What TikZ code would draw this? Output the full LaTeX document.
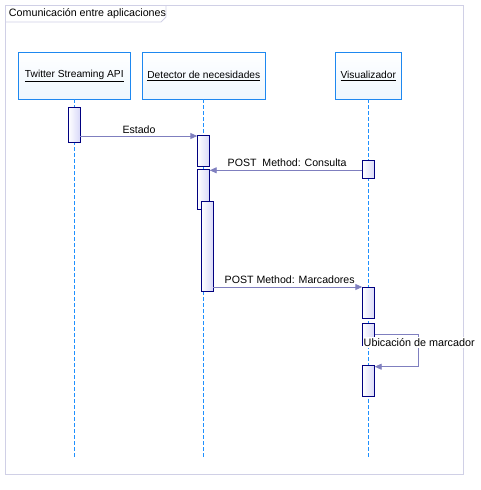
\documentclass[tikz,border=0pt]{standalone}
\usepackage{fontspec}
\setmainfont{Liberation Sans}
\usetikzlibrary{arrows.meta}
\definecolor{framec}{HTML}{D0D0E6}
\definecolor{lifeb}{HTML}{1E88F0}
\definecolor{lifefill}{HTML}{EEF7FE}
\definecolor{dashc}{HTML}{1E90FF}
\definecolor{actb}{HTML}{000080}
\definecolor{actfill}{HTML}{D8D8F8}
\definecolor{msgc}{HTML}{7F7FBF}
\tikzset{
  lifebox/.style={draw=lifeb, line width=0.9pt, top color=white, bottom color=lifefill, inner sep=0pt, font=\fontsize{10.2}{12}\selectfont},
  lifeline/.style={dashc, line width=0.9pt, dash pattern=on 4pt off 2pt},
  actbox/.style={draw=actb, line width=0.9pt, left color=white, right color=actfill},
  msg/.style={msgc, line width=0.9pt, -{Triangle[length=7pt,width=6pt]}},
  msglabel/.style={font=\fontsize{10.6}{12}\selectfont, inner sep=1pt},
}
\begin{document}
\begin{tikzpicture}[x=1pt,y=-1pt]
\useasboundingbox (0,0) rectangle (481,490);
% frame
\draw[framec, line width=0.9pt] (5.5,5.5) rectangle (463,474);
\draw[framec, line width=0.9pt] (5.5,22) -- (161,22) -- (166,17) -- (166,5.5);
\node[anchor=west, inner sep=0pt, font=\fontsize{10.7}{12}\selectfont] (title) at (8.8,14) {Comunicación entre aplicaciones};
% lifeline heads
\path[lifebox] (18.3,52.3) rectangle (130.3,99.3) node[midway] (twh) {\underline{Twitter Streaming API}};
\path[lifebox] (142.3,52.3) rectangle (265.3,99.3) node[midway] (deh) {\underline{Detector de necesidades}};
\path[lifebox] (335.3,52.3) rectangle (401.3,99.3) node[midway] (vih) {\underline{Visualizador}};
\coordinate (twtop) at (74.3,99.3);
\coordinate (detop) at (203.3,99.3);
\coordinate (vitop) at (368.3,99.3);
\coordinate (twbot) at (74.3,457);
\coordinate (debot) at (203.3,457);
\coordinate (vibot) at (368.3,457);
\draw[lifeline] (twtop) -- (twbot);
\draw[lifeline] (detop) -- (debot);
\draw[lifeline] (vitop) -- (vibot);
% activations
\path[actbox] (68.3,107.3) rectangle (80.3,142.3);
\path[actbox] (197.3,135.3) rectangle (209.7,166);
\path[actbox] (197.3,169.3) rectangle (209.7,209.3);
\path[actbox] (201.3,201) rectangle (213.3,291);
\path[actbox] (362.3,160.3) rectangle (374.7,178.7);
\path[actbox] (362.3,287) rectangle (374.7,318.3);
\path[actbox] (362.3,323) rectangle (374.7,345);
\path[actbox] (362.3,365) rectangle (374.7,396.7);
\coordinate (a1) at (80.3,136);
\coordinate (b1) at (197.3,136);
\coordinate (a2) at (362.3,170.3);
\coordinate (b2) at (209.7,170.3);
\coordinate (a3) at (213.3,287);
\coordinate (b3) at (362.3,287);
\coordinate (s0) at (374.7,334);
\coordinate (s1) at (418.3,334);
\coordinate (s2) at (418.3,366.7);
\coordinate (s3) at (374.7,366.7);
% messages
\draw[msg] (a1) -- (b1);
\node[msglabel] (l1) at (139,130) {Estado};
\draw[msg] (a2) -- (b2);
\node[msglabel, anchor=west] (l2) at (226.5,162.5) {POST\ \ Method: Consulta};
\draw[msg] (a3) -- (b3);
\node[msglabel, anchor=west] (l3) at (223.5,279.5) {POST Method: Marcadores};
\draw[msg] (s0) -- (s1) -- (s2) -- (s3);
\node[msglabel, fill=white, anchor=west, font=\fontsize{10.8}{12}\selectfont] (l4) at (362.5,342.5) {Ubicación de marcador};
\end{tikzpicture}
\end{document}
